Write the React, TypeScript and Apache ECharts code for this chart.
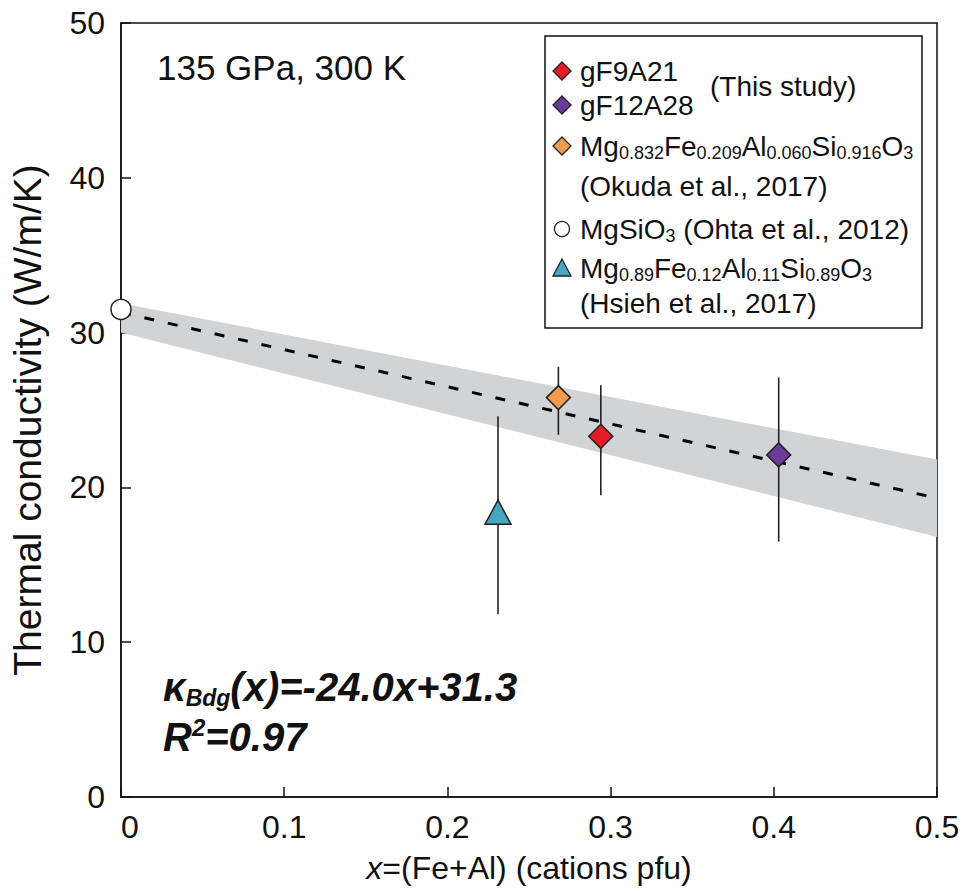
import React, { useEffect, useRef } from 'react';
import * as echarts from 'echarts';

const FONT = '"Liberation Sans", Arial, Helvetica, sans-serif';

// ---- data ----
const pointNames = ['gF9A21', 'gF12A28', 'Okuda et al., 2017', 'MgSiO3 (Ohta et al., 2012)', 'Hsieh et al., 2017'];
const pointX = [0.294, 0.403, 0.268, 0.0, 0.231];
const pointY = [23.3, 22.1, 25.8, 31.5, 18.4];
const errLow = [19.5, 16.5, 23.4, null, 11.8];
const errHigh = [26.6, 27.1, 27.8, null, 24.6];

const fitX = [0.0, 0.5];
const fitY = [31.3, 19.3];

const bandX = [0.0, 0.5];
const bandLower = [30.0, 16.8];
const bandUpper = [31.9, 21.8];

const xTickLabels = ['0', '0.1', '0.2', '0.3', '0.4', '0.5'];

// ---- styles ----
const symbols = ['diamond', 'diamond', 'diamond', 'circle', 'triangle'];
const symbolSizes: any[] = [24, 24, 24, 20, [26, 24]];
const fills = ['#e41d25', '#6a3c9a', '#f29a4d', '#ffffff', '#46a7c0'];
const INK = '#111111';

export default function App() {
  const ref = useRef<HTMLDivElement>(null);

  useEffect(() => {
    document.body.style.margin = '0';
    const chart = echarts.init(ref.current!, null, { renderer: 'svg' });

    const scatterSeries = pointNames.map((name, i) => ({
      name,
      type: 'scatter',
      data: [[pointX[i], pointY[i]]],
      symbol: symbols[i],
      symbolSize: symbolSizes[i],
      itemStyle: { color: fills[i], borderColor: '#222', borderWidth: 1.5, opacity: 1 },
      z: 5,
      emphasis: { disabled: true },
    }));

    const errData: any[] = [];
    pointX.forEach((x, i) => {
      if (errLow[i] != null && errHigh[i] != null) errData.push([x, errLow[i], errHigh[i]]);
    });

    const sub = (size: number, bold = false, italic = false) => ({
      fontSize: size, fontFamily: FONT, fontWeight: bold ? 'bold' : 'normal', fontStyle: italic ? 'italic' : 'normal',
      fill: INK, color: INK,
    });

    const legendRich = {
      n: { ...sub(28), lineHeight: 32 },
      s: { ...sub(18), lineHeight: 14, verticalAlign: 'bottom' },
    };

    const txt = (text: string, x: number, y: number, extra: any = {}) => ({
      type: 'text',
      z: 20,
      style: {
        text, x, y,
        align: 'left', textAlign: 'left', verticalAlign: 'middle', textVerticalAlign: 'middle',
        fontSize: 28, fontFamily: FONT, fill: INK,
        ...extra,
      },
    });

    const LX = 562; // legend marker center x
    const TX = 580; // legend text x
    const rows = [71, 105, 146, 186, 229, 268, 303];
    const d = 9;

    const option: any = {
      animation: false,
      backgroundColor: '#ffffff',
      grid: { left: 119, right: 27, top: 23, bottom: 96, show: true, borderColor: INK, borderWidth: 1.5, containLabel: false },
      xAxis: {
        type: 'value', min: 0, max: 0.5, interval: 0.1,
        axisLine: { show: true, onZero: false, lineStyle: { color: INK, width: 1.5 } },
        axisTick: { show: true, inside: true, length: 10, lineStyle: { color: INK, width: 1.5 } },
        axisLabel: {
          fontSize: 32, fontFamily: FONT, color: INK, margin: 14, alignMinLabel: 'left',
          formatter: (v: number) => xTickLabels[Math.round(v * 10)] ?? String(v),
        },
        splitLine: { show: false },
        name: '{i|x}{n|=(Fe+Al) (cations pfu)}',
        nameLocation: 'middle', nameGap: 55,
        nameTextStyle: {
          fontSize: 32, fontFamily: FONT, color: INK,
          rich: {
            i: { fontSize: 32, fontFamily: FONT, fontStyle: 'italic', color: INK },
            n: { fontSize: 32, fontFamily: FONT, color: INK },
          },
        },
      },
      yAxis: {
        type: 'value', min: 0, max: 50, interval: 10,
        axisLine: { show: true, onZero: false, lineStyle: { color: INK, width: 1.5 } },
        axisTick: { show: true, inside: true, length: 10, lineStyle: { color: INK, width: 1.5 } },
        axisLabel: { fontSize: 32, fontFamily: FONT, color: INK, margin: 16 },
        splitLine: { show: false },
        name: 'Thermal conductivity (W/m/K)',
        nameLocation: 'middle', nameRotate: 90, nameGap: 74,
        nameTextStyle: { fontSize: 39, fontFamily: FONT, color: INK, padding: [0, 20, 0, 0] },
      },
      series: [
        {
          type: 'custom', name: 'band', z: 1, silent: true,
          data: bandX.map((x, i) => [x, bandLower[i], bandUpper[i]]),
          encode: { x: 0, y: [1, 2] },
          renderItem: (params: any, api: any) => {
            if (params.dataIndex !== 0) return null;
            const up = bandX.map((x, i) => api.coord([x, bandUpper[i]]));
            const lo = bandX.map((x, i) => api.coord([x, bandLower[i]])).reverse();
            return { type: 'polygon', shape: { points: [...up, ...lo] }, style: { fill: '#d2d3d4' } };
          },
        },
        {
          type: 'custom', name: 'errorbars', z: 2, silent: true,
          data: errData,
          encode: { x: 0, y: [1, 2] },
          renderItem: (params: any, api: any) => {
            const p1 = api.coord([api.value(0), api.value(1)]);
            const p2 = api.coord([api.value(0), api.value(2)]);
            return {
              type: 'line',
              shape: { x1: p1[0], y1: p1[1], x2: p2[0], y2: p2[1] },
              style: { stroke: '#222', lineWidth: 1.6 },
            };
          },
        },
        {
          type: 'line', name: 'fit', z: 3, silent: true,
          data: fitX.map((x, i) => [x, fitY[i]]),
          symbol: 'none', showSymbol: false,
          lineStyle: { color: '#000', width: 3, type: [10, 14] },
          emphasis: { disabled: true },
        },
        ...scatterSeries,
      ],
      graphic: [
        txt('135 GPa, 300 K', 157, 67, { fontSize: 35 }),
        txt('{k|κ}{b|Bdg}{k|(x)=-24.0x+31.3}', 163, 687, {
          fontSize: 40, fontWeight: 'bold', fontStyle: 'italic',
          rich: {
            k: { ...sub(40, true, true), lineHeight: 44 },
            b: { ...sub(23, true, true), lineHeight: 24, verticalAlign: 'bottom' },
          },
        }),
        txt('{k|R}{p|2}{k|=0.97}', 163, 737, {
          fontSize: 40, fontWeight: 'bold', fontStyle: 'italic',
          rich: {
            k: { ...sub(40, true, true), lineHeight: 44 },
            p: { ...sub(24, true, true), lineHeight: 24, verticalAlign: 'top' },
          },
        }),
        // legend box
        {
          type: 'rect', z: 15,
          shape: { x: 545, y: 36, width: 377, height: 292 },
          style: { fill: '#ffffff', stroke: INK, lineWidth: 1.5 },
        },
        {
          type: 'polygon', z: 16,
          shape: { points: [[LX, rows[0] - d], [LX + d, rows[0]], [LX, rows[0] + d], [LX - d, rows[0]]] },
          style: { fill: fills[0], stroke: '#222', lineWidth: 1.3 },
        },
        {
          type: 'polygon', z: 16,
          shape: { points: [[LX, rows[1] - d], [LX + d, rows[1]], [LX, rows[1] + d], [LX - d, rows[1]]] },
          style: { fill: fills[1], stroke: '#222', lineWidth: 1.3 },
        },
        {
          type: 'polygon', z: 16,
          shape: { points: [[LX, rows[2] - d], [LX + d, rows[2]], [LX, rows[2] + d], [LX - d, rows[2]]] },
          style: { fill: fills[2], stroke: '#222', lineWidth: 1.3 },
        },
        {
          type: 'circle', z: 16,
          shape: { cx: LX, cy: rows[4], r: 7.5 },
          style: { fill: '#ffffff', stroke: '#222', lineWidth: 1.3 },
        },
        {
          type: 'polygon', z: 16,
          shape: { points: [[LX, rows[5] - 9], [LX + 9, rows[5] + 8], [LX - 9, rows[5] + 8]] },
          style: { fill: fills[4], stroke: '#222', lineWidth: 1.3 },
        },
        txt('gF9A21', TX, rows[0]),
        txt('gF12A28', TX, rows[1]),
        txt('(This study)', 710, 86),
        txt('{n|Mg}{s|0.832}{n|Fe}{s|0.209}{n|Al}{s|0.060}{n|Si}{s|0.916}{n|O}{s|3}', TX, rows[2], { rich: legendRich }),
        txt('(Okuda et al., 2017)', TX, rows[3]),
        txt('{n|MgSiO}{s|3}{n| (Ohta et al., 2012)}', TX, rows[4], { rich: legendRich }),
        txt('{n|Mg}{s|0.89}{n|Fe}{s|0.12}{n|Al}{s|0.11}{n|Si}{s|0.89}{n|O}{s|3}', TX, rows[5], { rich: legendRich }),
        txt('(Hsieh et al., 2017)', TX, rows[6]),
      ],
    };

    chart.setOption(option);
    return () => chart.dispose();
  }, []);

  return <div ref={ref} style={{ width: 964, height: 893 }} />;
}
